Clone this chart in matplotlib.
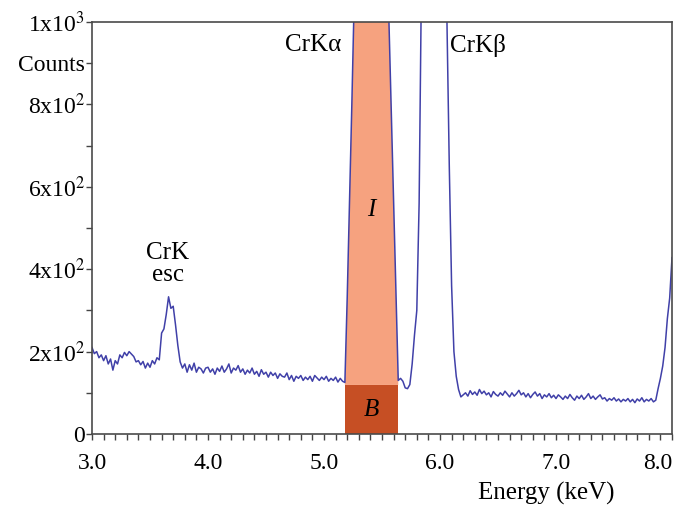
import numpy as np
import matplotlib
matplotlib.use("Agg")
import matplotlib.pyplot as plt
from matplotlib.ticker import MultipleLocator

plt.rcParams['font.family'] = ['Liberation Serif', 'DejaVu Serif']
plt.rcParams['mathtext.fontset'] = 'stix'

STEP = 0.02  # keV per channel

# spectrum, in segments (start energy, counts)
seg_a = (3.00, [210, 195, 200, 185, 192, 178, 190, 170, 182, 155, 178, 170, 192, 185, 198,
                190, 200, 194, 188, 175, 178, 168, 176, 160, 172, 162, 178, 170, 185])
# CrK escape peak
seg_b = (3.58, [180, 245, 255, 290, 333, 305, 310, 265, 215, 175, 160, 170, 150, 168, 155,
                172, 150, 162, 158, 148, 160])
seg_c = (4.00, [162, 150, 158, 145, 160, 152, 165, 150, 158, 170, 148, 160, 155, 166, 150,
                158, 145, 155, 148, 160, 145, 152, 140, 156, 145, 150, 138, 150, 142, 148,
                135, 146, 140, 138, 148, 132, 142, 128, 140, 135, 142, 130, 138, 132, 140,
                128, 142, 136, 130, 138, 132, 140, 128, 135, 130, 138, 126, 135, 128, 125])
# CrK alpha
seg_d = (5.20, [330, 560, 800, 1050, 1600, 2500, 3500, 4500, 5200, 5600, 5700, 5500, 5000,
                4200, 3200, 2200, 1500, 1150, 1000, 780, 560, 340, 130])
# CrK beta
seg_e = (5.66, [135, 128, 112, 110, 120, 170, 240, 300, 560, 1100, 1800, 2600, 3200, 3500,
                3500, 3200, 2600, 2000, 1500, 1200, 1000, 650, 360, 200, 140, 108, 90, 95])
seg_f = (6.22, [100, 92, 105, 96, 102, 94, 108, 98, 104, 95, 100, 90, 103, 96, 92, 100, 94,
                104, 97, 90, 100, 92, 98, 106, 95, 100, 90, 98, 88, 96, 102, 92, 98, 86, 95,
                90, 98, 88, 94, 86, 95, 90, 84, 92, 86, 96, 88, 82, 92, 86, 94, 84, 90, 98,
                86, 92, 84, 90, 95, 85, 88, 80, 86, 82, 88, 80, 85, 78, 84, 80, 86, 78, 84,
                76, 85, 80, 88, 78, 84, 80, 86, 78])
seg_g = (7.86, [82, 110, 135, 165, 210, 280, 330, 428])

segments = [seg_a, seg_b, seg_c, seg_d, seg_e, seg_f, seg_g]

x_ticks = [3, 4, 5, 6, 7, 8]
x_labels = ['3.0', '4.0', '5.0', '6.0', '7.0', '8.0']
y_ticks = [0, 200, 400, 600, 800, 900, 1000]
y_labels = ['0', '2x10$^2$', '4x10$^2$', '6x10$^2$', '8x10$^2$', 'Counts', '1x10$^3$']

# integration window and background level
win_lo, win_hi = 5.18, 5.64
bkg = 119

energy = []
counts = []
for start, vals in segments:
    for i, v in enumerate(vals):
        energy.append(start + STEP * i)
        counts.append(v)
energy = np.array(energy)
counts = np.array(counts, dtype=float)

fig = plt.figure(figsize=(6.83, 5.11), dpi=100)
ax = fig.add_axes([0.1347, 0.1507, 0.8492, 0.8063])

inside = (energy >= win_lo - 1e-9) & (energy <= win_hi + 1e-9)
ax.fill_between(energy[inside], bkg, counts[inside], color='#f6a27f', lw=0, zorder=1)
ax.fill_between([win_lo, win_hi], 0, bkg, color='#c64f24', lw=0, zorder=1)
ax.plot(energy, counts, color='#4040a8', lw=1.1, zorder=2)

ax.set_xlim(3.0, 8.0)
ax.set_ylim(0, 1000)

ax.set_xticks(x_ticks)
ax.set_xticklabels(x_labels)
ax.xaxis.set_minor_locator(MultipleLocator(0.1))
ax.get_xticklabels()[-1].set_horizontalalignment('right')

ax.set_yticks(y_ticks)
ax.set_yticklabels(y_labels)
ax.set_yticks([100, 300, 500, 700], minor=True)

ax.tick_params(axis='both', which='both', direction='out', length=4.5, width=1,
               top=False, right=False, labelsize=17, color='#444444')
ax.tick_params(axis='x', pad=9)
ax.tick_params(axis='y', pad=0.5)
for s in ax.spines.values():
    s.set_color('#4a4a4a')
    s.set_linewidth(1.2)

ax.text(4.905, 944, 'CrK\u03b1', fontsize=18, ha='center', va='center')
ax.text(6.33, 944, 'CrK\u03b2', fontsize=18, ha='center', va='center')
ax.text(3.655, 413, 'CrK\nesc', fontsize=18, ha='center', va='center', linespacing=1.0)
ax.text(5.405, 544, 'I', fontsize=18, style='italic', ha='center', va='center')
ax.text(5.405, 58, 'B', fontsize=18, style='italic', ha='center', va='center')

fig.text(546 / 683, 1 - 493 / 511, 'Energy (keV)', fontsize=18, ha='center', va='center')

fig.savefig('out.png', dpi=100)
